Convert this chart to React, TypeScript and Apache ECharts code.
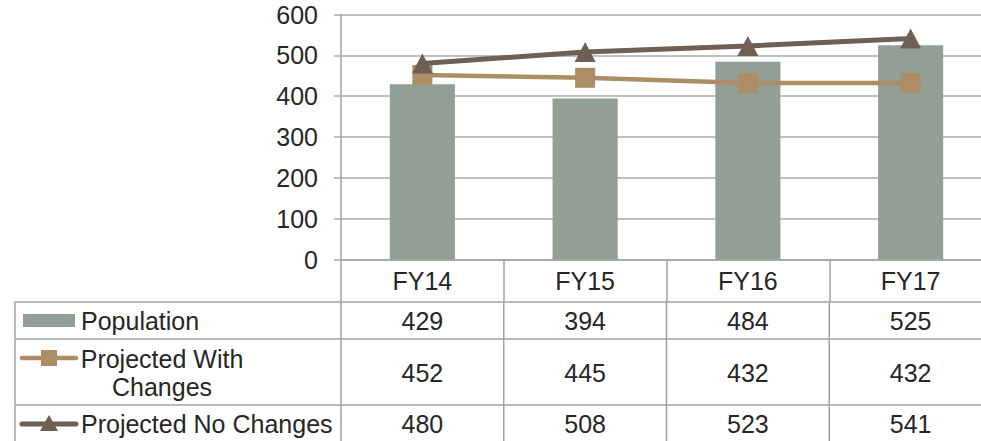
import React, { useEffect, useRef } from "react";
import * as echarts from "echarts";

const categories = ["FY14", "FY15", "FY16", "FY17"];
const population = [429, 394, 484, 525];
const projectedWith = [452, 445, 432, 432];
const projectedNo = [480, 508, 523, 541];
const seriesNames = ["Population", "Projected With Changes", "Projected No Changes"];
const yMin = 0;
const yMax = 600;
const yInterval = 100;

const W = 981;
const H = 441;
const CHART_W = 1010;
const GRID_LEFT = 341;
const GRID_TOP = 14.5;
const GRID_W = 651;
const GRID_H = 245;
const TABLE_LEFT = 15;
const ROW_LINES = [302, 339, 405, 442];
const FS = 25;

const TEXT = "#262626";
const FONT = "Liberation Sans";
const GRID_COLOR = "#ABABAB";
const TABLE_COLOR = "#A3A3A3";
const BAR_COLOR = "#919F94";
const WITH_COLOR = "#AC8D65";
const NO_COLOR = "#6F5F55";

export default function App() {
  const ref = useRef<HTMLDivElement>(null);

  useEffect(() => {
    if (!ref.current) return;
    const chart = echarts.init(ref.current, undefined, { renderer: "svg" });
    chart.setOption({
      animation: false,
      grid: { left: GRID_LEFT, top: GRID_TOP, width: GRID_W, height: GRID_H, containLabel: false },
      xAxis: {
        type: "category",
        data: categories,
        axisLine: { show: true, lineStyle: { color: TABLE_COLOR, width: 1.5 } },
        axisTick: { show: true, length: ROW_LINES[0] - (GRID_TOP + GRID_H), lineStyle: { color: TABLE_COLOR, width: 1.5 } },
        axisLabel: { color: TEXT, fontSize: FS, fontFamily: FONT, margin: 9 },
        splitLine: { show: false },
      },
      yAxis: {
        type: "value",
        min: yMin,
        max: yMax,
        interval: yInterval,
        axisLine: { show: true, lineStyle: { color: TABLE_COLOR, width: 1.5 } },
        axisTick: { show: true, length: 7, lineStyle: { color: GRID_COLOR, width: 1.5 } },
        axisLabel: { color: TEXT, fontSize: FS, fontFamily: FONT, margin: 23 },
        splitLine: { show: true, lineStyle: { color: GRID_COLOR, width: 1.5 } },
      },
      series: [
        {
          name: seriesNames[0],
          type: "bar",
          data: population,
          barWidth: "40%",
          itemStyle: { color: BAR_COLOR },
          z: 1,
        },
        {
          name: seriesNames[1],
          type: "line",
          data: projectedWith,
          symbol: "rect",
          symbolSize: 20,
          lineStyle: { color: WITH_COLOR, width: 4.5 },
          itemStyle: { color: WITH_COLOR },
          z: 2,
        },
        {
          name: seriesNames[2],
          type: "line",
          data: projectedNo,
          symbol: "triangle",
          symbolSize: [21, 20],
          lineStyle: { color: NO_COLOR, width: 5 },
          itemStyle: { color: NO_COLOR },
          z: 3,
        },
      ],
    });

    const catW = GRID_W / categories.length;
    const centers = categories.map((c, i) => {
      const p = chart.convertToPixel({ xAxisIndex: 0 }, c);
      return typeof p === "number" ? p : GRID_LEFT + catW * (i + 0.5);
    });

    const elements: any[] = [];
    const lineStyle = { stroke: TABLE_COLOR, lineWidth: 1.5 };
    ROW_LINES.forEach((y) => {
      elements.push({ type: "line", shape: { x1: TABLE_LEFT, y1: y, x2: GRID_LEFT + GRID_W, y2: y }, style: lineStyle });
    });
    const vx = [TABLE_LEFT];
    for (let i = 0; i <= categories.length; i++) vx.push(GRID_LEFT + catW * i);
    vx.forEach((x) => {
      elements.push({ type: "line", shape: { x1: x, y1: ROW_LINES[0], x2: x, y2: H + 2 }, style: lineStyle });
    });

    const rowCenters = [0, 1, 2].map((i) => (ROW_LINES[i] + ROW_LINES[i + 1]) / 2 + 0.5);
    const rowData = [population, projectedWith, projectedNo];
    rowData.forEach((arr, r) => {
      arr.forEach((v, i) => {
        elements.push({
          type: "text",
          x: centers[i],
          y: rowCenters[r],
          style: { text: String(v), fill: TEXT, fontSize: FS, fontFamily: FONT, align: "center", verticalAlign: "middle" },
        });
      });
    });

    // legend keys
    elements.push({ type: "rect", shape: { x: 23, y: 314, width: 52, height: 13 }, style: { fill: BAR_COLOR } });
    const y2 = 358;
    elements.push({ type: "line", shape: { x1: 22, y1: y2, x2: 76, y2: y2 }, style: { stroke: WITH_COLOR, lineWidth: 4.5, lineCap: "round" } });
    elements.push({ type: "rect", shape: { x: 41, y: y2 - 8, width: 16, height: 16 }, style: { fill: WITH_COLOR } });
    const y3 = 424;
    elements.push({ type: "line", shape: { x1: 22, y1: y3, x2: 76, y2: y3 }, style: { stroke: NO_COLOR, lineWidth: 5, lineCap: "round" } });
    elements.push({ type: "polygon", shape: { points: [[49, y3 - 9], [40, y3 + 7], [58, y3 + 7]] }, style: { fill: NO_COLOR } });

    elements.push({
      type: "text", x: 81, y: rowCenters[0],
      style: { text: seriesNames[0], fill: TEXT, fontSize: FS, fontFamily: FONT, align: "left", verticalAlign: "middle" },
    });
    elements.push({
      type: "text", x: 162, y: rowCenters[1],
      style: { text: "Projected With\nChanges", fill: TEXT, fontSize: FS, fontFamily: FONT, align: "center", verticalAlign: "middle", lineHeight: 28 },
    });
    elements.push({
      type: "text", x: 81, y: rowCenters[2],
      style: { text: seriesNames[2], fill: TEXT, fontSize: FS, fontFamily: FONT, align: "left", verticalAlign: "middle" },
    });

    chart.setOption({ graphic: { elements } });

    return () => chart.dispose();
  }, []);

  return (
    <div style={{ position: "absolute", left: 0, top: 0, width: W, height: H, overflow: "hidden", background: "#ffffff" }}>
      <div ref={ref} style={{ width: CHART_W, height: H }} />
    </div>
  );
}
